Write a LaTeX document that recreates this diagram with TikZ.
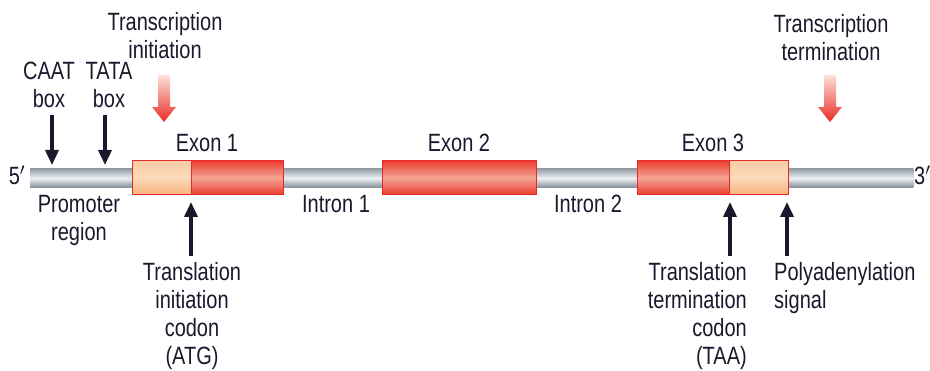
\documentclass[tikz,border=0pt]{standalone}
\usepackage{fontspec}
\setmainfont{Liberation Sans}[FakeStretch=0.8]
\usetikzlibrary{arrows.meta}
\definecolor{txt}{RGB}{25,25,45}
\definecolor{barEdge}{RGB}{150,160,168}
\definecolor{barMid}{RGB}{236,240,242}
\definecolor{barBot}{RGB}{135,145,152}
\definecolor{exRed}{RGB}{234,62,48}
\definecolor{exRedLight}{RGB}{245,165,150}
\definecolor{exBorder}{RGB}{232,40,40}
\definecolor{peachTop}{RGB}{250,205,165}
\definecolor{peachMid}{RGB}{252,218,185}
\definecolor{peachBot}{RGB}{248,178,125}
\definecolor{arrTop}{RGB}{253,225,218}
\definecolor{arrBot}{RGB}{232,45,35}
\begin{document}
\begin{tikzpicture}[x=1pt,y=-1pt,
  lbl/.style={font=\fontsize{25}{28}\selectfont, text=txt, inner sep=0pt, align=center},
  blk/.style={draw=txt, line width=3.6pt, -{Triangle[width=13pt,length=15pt]}},
  slot/.style={inner sep=0pt, anchor=north west},
  barshade/.style={top color=barEdge, bottom color=barBot, middle color=barMid},
  redshade/.style={top color=exRed, bottom color=exRed, middle color=exRedLight},
  peachshade/.style={top color=peachTop, bottom color=peachBot, middle color=peachMid},
  border/.style={draw=exBorder, line width=1pt},
  redarrow/.style={top color=arrTop, bottom color=arrBot}]
\useasboundingbox (0,0) rectangle (930,371);

% DNA bar and exon slots
\node[slot, minimum width=883pt, minimum height=18pt] (bar) at (30,169) {};
\node[slot, minimum width=59pt, minimum height=33pt] (e1a) at (132,161) {};
\node[slot, minimum width=92pt, minimum height=33pt] (e1b) at (191,161) {};
\node[slot, minimum width=154pt, minimum height=33pt] (e2) at (382,161) {};
\node[slot, minimum width=92pt, minimum height=33pt] (e3a) at (637,161) {};
\node[slot, minimum width=59pt, minimum height=33pt] (e3b) at (729,161) {};

\shade[barshade] (bar.north west) rectangle (bar.south east);
\shade[peachshade] (e1a.north west) rectangle (e1a.south east);
\shade[redshade] (e1b.north west) rectangle (e1b.south east);
\shade[redshade] (e2.north west) rectangle (e2.south east);
\shade[redshade] (e3a.north west) rectangle (e3a.south east);
\shade[peachshade] (e3b.north west) rectangle (e3b.south east);
\draw[border] (e1a.north west) rectangle (e1a.south east);
\draw[border] (e1b.north west) rectangle (e1b.south east);
\draw[border] (e2.north west) rectangle (e2.south east);
\draw[border] (e3a.north west) rectangle (e3a.south east);
\draw[border] (e3b.north west) rectangle (e3b.south east);

% ends
\node[lbl, anchor=base] (five) at (17,185) {5$'$};
\node[lbl, anchor=base west] (three) at (914,185) {3$'$};

% exon / intron labels
\node[lbl, anchor=north] (x1) at (207,134) {Exon 1};
\node[lbl, anchor=north] (x2) at (459,134) {Exon 2};
\node[lbl, anchor=north] (x3) at (713,134) {Exon 3};
\node[lbl, anchor=north] (i1) at (336,195) {Intron 1};
\node[lbl, anchor=north] (i2) at (588,195) {Intron 2};
\node[lbl, anchor=north] (prom) at (79,195) {Promoter\\region};

% top labels
\node[lbl, anchor=north] (caat) at (49,62) {CAAT\\box};
\node[lbl, anchor=north] (tata) at (109,62) {TATA\\box};
\node[lbl, anchor=north] (tinit) at (165,12) {Transcription\\initiation};
\node[lbl, anchor=north] (tterm) at (831,14) {Transcription\\termination};

% bottom labels
\node[lbl, anchor=north] (trinit) at (192,262) {Translation\\initiation\\codon\\(ATG)};
\node[lbl, anchor=north east, align=right] (trterm) at (747,262) {Translation\\termination\\codon\\(TAA)};
\node[lbl, anchor=north west, align=left] (poly) at (774,262) {Polyadenylation\\signal};

% black arrows
\coordinate (caatTip) at (52,165);
\coordinate (tataTip) at (105,165);
\draw[blk] (caatTip |- caat.south) ++(0,7) -- (caatTip);
\draw[blk] (tataTip |- tata.south) ++(0,7) -- (tataTip);

\coordinate (atgTip) at (191,202);
\coordinate (taaTip) at (730,202);
\coordinate (polyTip) at (787,202);
\draw[blk] (atgTip |- trinit.north) ++(0,-6) -- (atgTip);
\draw[blk] (taaTip |- trterm.north) ++(0,-6) -- (taaTip);
\draw[blk] (polyTip |- poly.north) ++(0,-6) -- (polyTip);

% red transcription arrows
\coordinate (ra1) at (164,75);
\coordinate (ra2) at (830,75);
\shade[redarrow] (ra1) ++(-6,0) -- ++(0,32) -- ++(-6,0) -- ++(12,15) -- ++(12,-15) -- ++(-6,0) -- ++(0,-32) -- cycle;
\shade[redarrow] (ra2) ++(-6,0) -- ++(0,32) -- ++(-6,0) -- ++(12,15) -- ++(12,-15) -- ++(-6,0) -- ++(0,-32) -- cycle;
\end{tikzpicture}
\end{document}
